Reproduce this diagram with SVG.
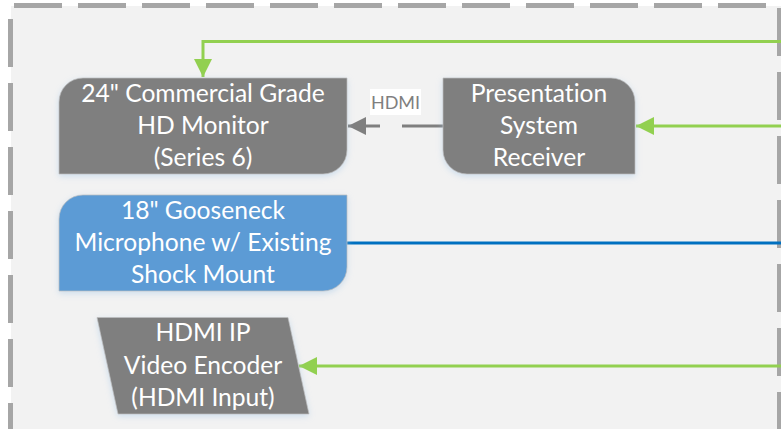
<svg xmlns="http://www.w3.org/2000/svg" width="781" height="429" viewBox="0 0 781 429">
<defs>
<filter id="sh" x="-10%" y="-10%" width="120%" height="125%"><feDropShadow dx="0" dy="2" stdDeviation="3" flood-color="#9dc3e6" flood-opacity="0.45"/></filter>
<marker id="ag" markerUnits="userSpaceOnUse" markerWidth="18" markerHeight="18" refX="18" refY="9" orient="auto"><path d="M0,0L18,9L0,18Z" fill="#92d050"/></marker>
<marker id="ay" markerUnits="userSpaceOnUse" markerWidth="18" markerHeight="18" refX="18" refY="9" orient="auto"><path d="M0,0L18,9L0,18Z" fill="#7f7f7f"/></marker>
</defs>
<style>
text{font-family:"Lato","Liberation Sans",sans-serif;font-size:24.600px;fill:#fff;text-anchor:middle;font-variant-ligatures:none}
.n{filter:url(#sh);stroke:#bfbfbf;stroke-width:.7}
.g{fill:#7f7f7f}
.b{fill:#5b9bd5}
.c{fill:none;stroke-width:3}
.d{fill:none;stroke:#a6a6a6;stroke-width:5;stroke-dasharray:48 16}
</style>
<rect width="781" height="429" fill="#fff"/>
<rect x="11" y="6" width="770" height="423" fill="#f2f2f2"/>
<g id="frame">
<path class="d" d="M14,5.500H770"/>
<path class="d" d="M10.500,19V429"/>
<path class="d" d="M779.500,8V429"/>
</g>
<g id="connectors">
<path class="c" stroke="#92d050" marker-end="url(#ag)" d="M781,41.500H203V77"/>
<path class="c" stroke="#92d050" marker-end="url(#ag)" d="M781,126H636"/>
<path class="c" stroke="#7f7f7f" marker-end="url(#ay)" d="M380,126H348"/>
<path class="c" stroke="#7f7f7f" d="M402,126H444"/>
<path class="c" stroke="#0070c0" d="M346,243H781"/>
<path class="c" stroke="#92d050" marker-end="url(#ag)" d="M781,366H299"/>
</g>
<g id="monitor">
<path class="n g" d="M83,78H347V150A24,24 0 0 1 323,174H59V102A24,24 0 0 1 83,78Z"/>
<text x="203" y="102">24" Commercial Grade</text>
<text x="203" y="134">HD Monitor</text>
<text x="203" y="166">(Series 6)</text>
</g>
<g id="label-hdmi">
<rect x="370" y="89" width="51" height="26" fill="#fff"/>
<text x="395.500" y="109" style="font-size:18px;fill:#7f7f7f">HDMI</text>
</g>
<g id="receiver">
<path class="n g" d="M443,78H611A24,24 0 0 1 635,102V174H467A24,24 0 0 1 443,150Z"/>
<text x="539" y="102">Presentation</text>
<text x="539" y="134">System</text>
<text x="539" y="166">Receiver</text>
</g>
<g id="microphone">
<path class="n b" d="M83,195H347V267A24,24 0 0 1 323,291H59V219A24,24 0 0 1 83,195Z"/>
<text x="203" y="219">18" Gooseneck</text>
<text x="203" y="251">Microphone w/ Existing</text>
<text x="203" y="283">Shock Mount</text>
</g>
<g id="encoder">
<path class="n g" d="M97,317.500H288L309,414H118Z"/>
<text x="203" y="341">HDMI IP</text>
<text x="203" y="374">Video Encoder</text>
<text x="203" y="406">(HDMI Input)</text>
</g>
</svg>
